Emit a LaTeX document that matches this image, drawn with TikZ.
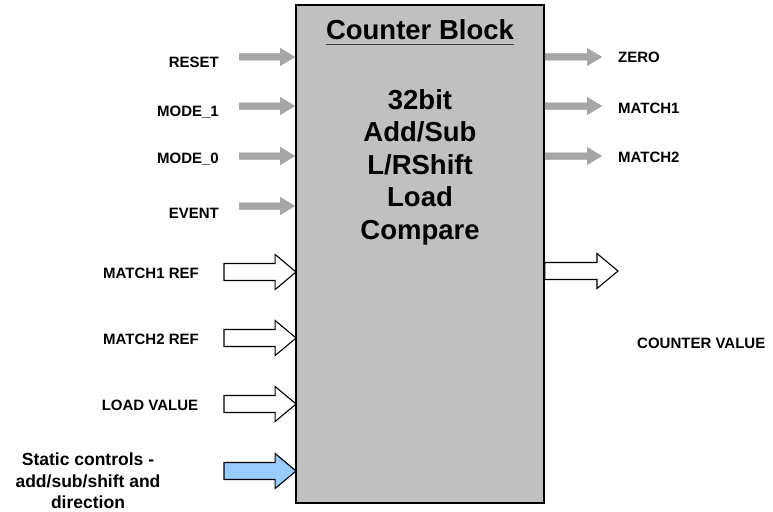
\documentclass[tikz,border=0pt]{standalone}
\usepackage{fontspec}
\setmainfont{Liberation Sans}
\usetikzlibrary{calc}

\definecolor{blockgray}{RGB}{192,192,192}
\definecolor{sigarrow}{RGB}{166,166,166}
\definecolor{sigshadow}{RGB}{120,120,120}
\definecolor{staticblue}{RGB}{153,204,255}

\tikzset{
  lbl/.style={font=\bfseries\fontsize{15}{18}\selectfont, inner sep=0pt},
  notelbl/.style={font=\bfseries\fontsize{17.5}{21}\selectfont, inner sep=0pt},
  bodytxt/.style={font=\bfseries\fontsize{27.5}{32}\selectfont, inner sep=0pt},
  titletxt/.style={font=\bfseries\fontsize{27.5}{32}\selectfont, inner sep=0pt},
  blockbox/.style={draw=black, line width=1.8pt, fill=blockgray, inner sep=0pt},
  thinsig/.style={fill=sigarrow, draw=none},
  thinshadow/.style={fill=sigshadow, draw=none, opacity=0.09},
  fatsig/.style={draw=black, line width=1.1pt, fill=white, line join=miter},
  fatstatic/.style={fatsig, fill=staticblue},
}

% thin grey signal arrow between two named points (shaft 7, head 18 x 15)
\newcommand\sigarrow[3]{%
  \path[#1] let \p1=(#2), \p2=(#3) in
    (\x1,\y1+3.5pt) -- (\x2-15pt,\y1+3.5pt) -- (\x2-15pt,\y1+9pt) -- (\x2,\y1)
    -- (\x2-15pt,\y1-9pt) -- (\x2-15pt,\y1-3.5pt) -- (\x1,\y1-3.5pt) -- cycle;}
% thin arrow with a soft shadow underneath
\newcommand\shadedsig[2]{%
  \foreach \dx/\dy in {0.5/1.5,1/2.5,1.5/3.5,2/4.5,2.5/5.5}{%
    \begin{scope}[shift={(\dx pt,-\dy pt)}]\sigarrow{thinshadow}{#1}{#2}\end{scope}}%
  \sigarrow{thinsig}{#1}{#2}}
% wide bus arrow (shaft 17, head 35 x 21)
\newcommand\busarrow[3]{%
  \path[#1] let \p1=(#2), \p2=(#3) in
    (\x1,\y1+8.5pt) -- (\x2-21pt,\y1+8.5pt) -- (\x2-21pt,\y1+17.5pt) -- (\x2,\y1)
    -- (\x2-21pt,\y1-17.5pt) -- (\x2-21pt,\y1-8.5pt) -- (\x1,\y1-8.5pt) -- cycle;}

\begin{document}
\begin{tikzpicture}[x=1pt, y=-1pt]
\useasboundingbox (0,0) rectangle (773,511);

% the counter block
\node[blockbox, minimum width=248pt, minimum height=498pt] (blk) at (420,254) {};
\node[titletxt, anchor=base] (title) at (420,40) {Counter Block};
\draw[line width=1.4pt, black!75] ($(title.base west)+(0,4.5)$) -- ($(title.base east)+(0,4.5)$);
\node[bodytxt, anchor=base] (b1) at (420,109) {32bit};
\node[bodytxt, anchor=base] (b2) at (420,141.5) {Add/Sub};
\node[bodytxt, anchor=base] (b3) at (420,174) {L/RShift};
\node[bodytxt, anchor=base] (b4) at (420,206.5) {Load};
\node[bodytxt, anchor=base] (b5) at (420,239) {Compare};

% control inputs
\coordinate (iReset) at (239,57);
\coordinate (iMode1) at (239,106);
\coordinate (iMode0) at (239,156);
\coordinate (iEvent) at (239,206);
\foreach \c in {iReset,iMode1,iMode0,iEvent}{\shadedsig{\c}{blk.west |- \c}}
\node[lbl, anchor=base east] (lReset) at (219,67) {RESET};
\node[lbl, anchor=base east] (lMode1) at (219,116) {MODE\_1};
\node[lbl, anchor=base east] (lMode0) at (219,163) {MODE\_0};
\node[lbl, anchor=base east] (lEvent) at (219,218) {EVENT};

% status outputs
\coordinate (oZero) at (602,57);
\coordinate (oMatch1) at (602,106);
\coordinate (oMatch2) at (602,156);
\foreach \c in {oZero,oMatch1,oMatch2}{\shadedsig{blk.east |- \c}{\c}}
\node[lbl, anchor=base west] (lZero) at (618,62.5) {ZERO};
\node[lbl, anchor=base west] (lMatch1) at (618,113.5) {MATCH1};
\node[lbl, anchor=base west] (lMatch2) at (618,162.5) {MATCH2};

% bus inputs
\coordinate (iRef1) at (224,272);
\coordinate (iRef2) at (224,338);
\coordinate (iLoad) at (224,404);
\coordinate (iStatic) at (224,471);
\foreach \c in {iRef1,iRef2,iLoad}{\busarrow{fatsig}{\c}{$(blk.west |- \c)+(1,0)$}}
\busarrow{fatstatic}{iStatic}{$(blk.west |- iStatic)+(1,0)$}
\node[lbl, anchor=base] (lRef1) at (151,278.5) {MATCH1 REF};
\node[lbl, anchor=base] (lRef2) at (151,344.5) {MATCH2 REF};
\node[lbl, anchor=base] (lLoad) at (150,410.5) {LOAD VALUE};
\node[notelbl, anchor=base] (lStatic1) at (88,465) {Static controls -};
\node[notelbl, anchor=base] (lStatic2) at (88,487) {add/sub/shift and};
\node[notelbl, anchor=base] (lStatic3) at (88,508) {direction};

% counter value output
\coordinate (oCount) at (618,271);
\busarrow{fatsig}{blk.east |- oCount}{oCount}
\node[lbl, anchor=base west] (lCount) at (637,348.5) {COUNTER VALUE};
\end{tikzpicture}
\end{document}
